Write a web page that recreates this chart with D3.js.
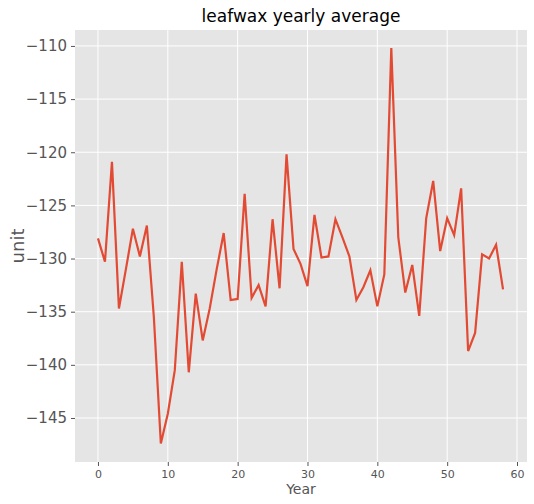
<!DOCTYPE html><html><head><meta charset="utf-8"><script src="https://d3js.org/d3.v7.min.js"></script>
<style>body{margin:0;background:#fff}text{font-family:"DejaVu Sans",sans-serif}</style></head><body><svg width="534" height="504"></svg><script>
const years=d3.range(0,59);
const values=[-128.1,-130.3,-120.9,-134.7,-131,-127.2,-129.8,-126.9,-135.5,-147.4,-144.6,-140.5,-130.3,-140.7,-133.3,-137.7,-134.7,-131,-127.6,-133.9,-133.8,-123.9,-133.7,-132.5,-134.5,-126.3,-132.8,-120.2,-129.1,-130.5,-132.6,-125.9,-129.9,-129.8,-126.3,-128,-129.8,-133.9,-132.7,-131.1,-134.5,-131.5,-110.2,-128,-133.2,-130.6,-135.4,-126.2,-122.7,-129.3,-126.2,-127.8,-123.4,-138.7,-137,-129.6,-130,-128.7,-132.9];
const xTicks=[0,10,20,30,40,50,60];
const yTicks=[-110,-115,-120,-125,-130,-135,-140,-145];
const L=75,R=527,T=30,B=462;
const svg=d3.select("svg");
const x=d3.scaleLinear().domain([-3.29,61.43]).range([L,R]);
const y=d3.scaleLinear().domain([-149.14,-108.5]).range([B,T]);
svg.append("rect").attr("x",L).attr("y",T).attr("width",R-L).attr("height",B-T).attr("fill","#e5e5e5");
const g=svg.append("g");
xTicks.forEach(t=>g.append("line").attr("x1",x(t)).attr("x2",x(t)).attr("y1",T).attr("y2",B).attr("stroke","#fff").attr("stroke-width",1));
yTicks.forEach(t=>g.append("line").attr("y1",y(t)).attr("y2",y(t)).attr("x1",L).attr("x2",R).attr("stroke","#fff").attr("stroke-width",1));
const xa=svg.append("g").attr("transform",`translate(0,${B})`).call(d3.axisBottom(x).tickValues(xTicks).tickSize(4).tickPadding(4));
const ya=svg.append("g").attr("transform",`translate(${L},0)`).call(d3.axisLeft(y).tickValues(yTicks).tickSize(4).tickPadding(4).tickFormat(d=>d3.format("d")(d).replace("-","\u2212")));
[xa,ya].forEach(a=>{a.select(".domain").remove();a.selectAll("line").attr("stroke","#555");a.selectAll("text").attr("fill","#555").style("font-family","DejaVu Sans");});
xa.selectAll("text").attr("font-size",11);
ya.selectAll("text").attr("font-size",15);
svg.append("path").datum(values).attr("fill","none").attr("stroke","#e24a33").attr("stroke-width",2.2)
 .attr("d",d3.line().x((d,i)=>x(years[i])).y(d=>y(d)));
svg.append("text").attr("x",(L+R)/2).attr("y",22).attr("text-anchor","middle").attr("font-size",17).attr("fill","#000").text("leafwax yearly average");
svg.append("text").attr("x",(L+R)/2).attr("y",494).attr("text-anchor","middle").attr("font-size",14).attr("fill","#555").text("Year");
svg.append("text").attr("transform",`translate(24,${(T+B)/2}) rotate(-90)`).attr("text-anchor","middle").attr("font-size",18).attr("fill","#555").text("unit");
</script></body></html>
